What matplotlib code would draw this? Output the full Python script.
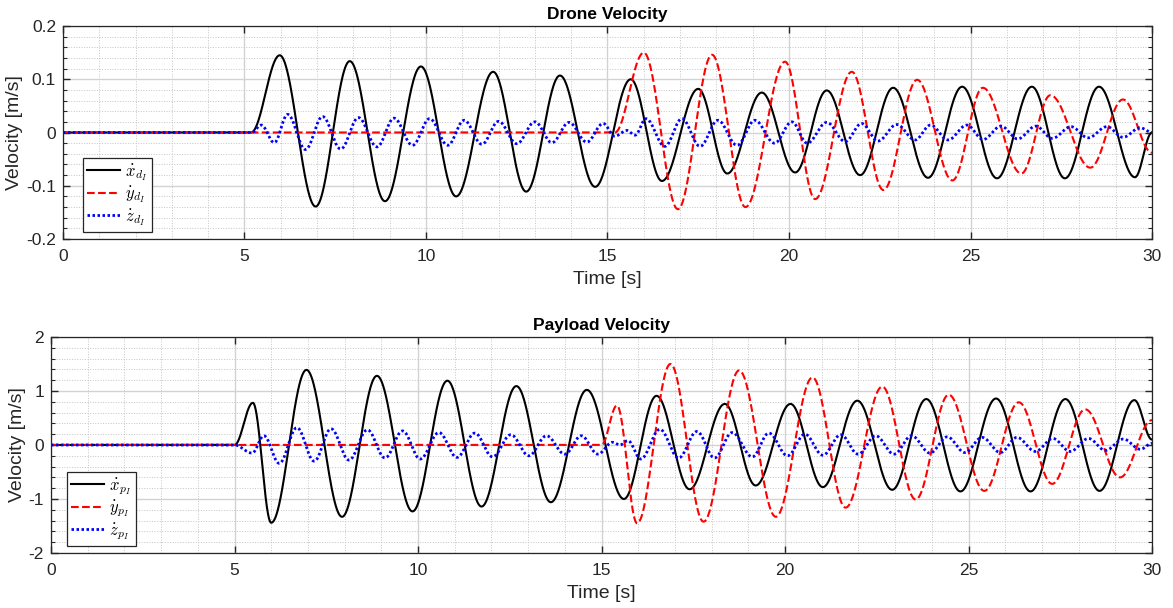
import numpy as np
import matplotlib
matplotlib.use("Agg")
import matplotlib.pyplot as plt
from matplotlib.ticker import MultipleLocator, FormatStrFormatter

plt.rcParams['font.family'] = ['Liberation Sans', 'DejaVu Sans']
plt.rcParams['axes.unicode_minus'] = False
plt.rcParams['mathtext.fontset'] = 'cm'

# === Drone velocity: extrema (time [s], value [m/s]) ===
t_xd = [0, 5.18, 5.97, 6.96, 7.9, 8.87, 9.86, 10.83, 11.85, 12.76, 13.69, 14.66, 15.64, 16.5,
        17.5, 18.3, 19.25, 20.17, 21.04, 21.96, 22.87, 23.83, 24.77, 25.73, 26.69, 27.6, 28.54, 29.53, 30]
v_xd = [0, 0, 0.145, -0.139, 0.134, -0.129, 0.124, -0.12, 0.114, -0.111, 0.107, -0.102, 0.10, -0.091,
        0.082, -0.077, 0.075, -0.075, 0.079, -0.08, 0.084, -0.085, 0.086, -0.086, 0.086, -0.086, 0.086, -0.084, 0.0]

t_yd = [0, 15.2, 16.0, 16.94, 17.88, 18.8, 19.89, 20.72, 21.73, 22.6, 23.53, 24.5, 25.34, 26.4,
        27.2, 28.3, 29.2, 30]
v_yd = [0, 0, 0.15, -0.144, 0.146, -0.14, 0.133, -0.125, 0.114, -0.108, 0.099, -0.09, 0.084, -0.077,
        0.07, -0.066, 0.062, -0.038]

t_zd = [0, 5.2, 5.46, 5.82, 6.19, 6.68, 7.15, 7.65, 8.14, 8.65, 9.12, 9.63, 10.1, 10.6, 11.05, 11.54,
        12.0, 12.5, 13.0, 13.47, 13.94, 14.43, 14.88, 15.2, 15.53, 15.76, 16.06, 16.58, 17.05, 17.55,
        18.04, 18.57, 19.06, 19.6, 20.08, 20.5, 21.04, 21.55, 22.0, 22.45, 22.97, 23.47, 23.9, 24.38,
        24.9, 25.35, 25.84, 26.3, 26.8, 27.25, 27.77, 28.24, 28.76, 29.2, 29.67, 30]
v_zd = [0, 0, 0.014, -0.019, 0.034, -0.032, 0.03, -0.031, 0.028, -0.027, 0.027, -0.024, 0.026, -0.024,
        0.023, -0.022, 0.021, -0.021, 0.02, -0.019, 0.019, -0.018, 0.017, -0.007, 0.004, -0.005, 0.026,
        -0.026, 0.026, -0.026, 0.023, -0.024, 0.023, -0.02, 0.02, -0.02, 0.019, -0.017, 0.017, -0.016,
        0.015, -0.014, 0.014, -0.014, 0.014, -0.013, 0.012, -0.012, 0.012, -0.011, 0.011, -0.01, 0.011,
        -0.009, 0.009, 0.0]

# === Payload velocity ===
t_xp = [0, 5.0, 5.5, 6.0, 6.96, 7.93, 8.88, 9.85, 10.8, 11.73, 12.68, 13.62, 14.6, 15.61, 16.5, 17.4,
        18.36, 19.2, 20.15, 21.03, 21.97, 22.92, 23.85, 24.78, 25.75, 26.69, 27.64, 28.57, 29.52, 30]
v_xp = [0, 0, 0.78, -1.44, 1.39, -1.33, 1.28, -1.23, 1.19, -1.14, 1.09, -1.06, 1.02, -1.0, 0.91, -0.82,
        0.76, -0.75, 0.76, -0.78, 0.82, -0.83, 0.85, -0.86, 0.86, -0.86, 0.85, -0.85, 0.83, 0.1]

t_yp = [0, 15.0, 15.42, 15.97, 16.88, 17.78, 18.75, 19.75, 20.75, 21.65, 22.65, 23.56, 24.46, 25.43,
        26.37, 27.28, 28.18, 29.13, 30]
v_yp = [0, 0, 0.73, -1.45, 1.5, -1.42, 1.38, -1.33, 1.25, -1.16, 1.08, -1.01, 0.93, -0.85,
        0.79, -0.72, 0.66, -0.6, 0.46]

t_zp = [0, 5.0, 5.48, 5.8, 6.22, 6.7, 7.17, 7.63, 8.12, 8.62, 9.1, 9.58, 10.06, 10.57, 11.06, 11.55,
        12.03, 12.53, 13.02, 13.5, 14.0, 14.45, 14.9, 15.3, 15.5, 15.72, 16.07, 16.59, 17.1, 17.6,
        18.08, 18.56, 19.11, 19.56, 20.07, 20.54, 21.03, 21.52, 21.99, 22.47, 22.97, 23.45, 23.95, 24.42,
        24.9, 25.37, 25.87, 26.32, 26.82, 27.3, 27.77, 28.27, 28.73, 29.22, 29.68, 30]
v_zp = [0, 0, -0.15, 0.17, -0.34, 0.32, -0.30, 0.30, -0.28, 0.28, -0.24, 0.26, -0.26, 0.23, -0.23, 0.22,
        -0.22, 0.19, -0.2, 0.17, -0.17, 0.17, -0.17, 0.05, 0.0, 0.08, -0.26, 0.29, -0.24, 0.25,
        -0.24, 0.23, -0.22, 0.22, -0.2, 0.2, -0.19, 0.19, -0.17, 0.17, -0.17, 0.17, -0.15, 0.15,
        -0.14, 0.14, -0.14, 0.14, -0.12, 0.12, -0.12, 0.12, -0.1, 0.11, -0.08, 0.03]

DOTS = (0, (0.9, 0.9))


def smooth(tk, vk, n=6000):
    # half-cosine between successive read extrema
    tk = np.asarray(tk, float)
    vk = np.asarray(vk, float)
    t = np.linspace(tk[0], tk[-1], n)
    i = np.clip(np.searchsorted(tk, t, side="right") - 1, 0, len(tk) - 2)
    f = (t - tk[i]) / (tk[i + 1] - tk[i])
    w = (1 - np.cos(np.pi * f)) / 2
    return t, vk[i] + (vk[i + 1] - vk[i]) * w


def style_axes(ax, ymaj, ymin, title, ylim):
    ax.set_xlim(0, 30)
    ax.set_ylim(*ylim)
    ax.xaxis.set_major_locator(MultipleLocator(5))
    ax.xaxis.set_minor_locator(MultipleLocator(1))
    ax.yaxis.set_major_locator(MultipleLocator(ymaj))
    ax.yaxis.set_minor_locator(MultipleLocator(ymin))
    ax.yaxis.set_major_formatter(FormatStrFormatter('%g'))
    ax.grid(True, which='major', color='#d2d2d2', lw=1.0, ls='-')
    ax.grid(True, which='minor', color='#c4c4c4', lw=0.7, ls=':')
    ax.set_axisbelow(True)
    ax.tick_params(which='both', direction='in', top=True, right=True,
                   colors='#262626', labelsize=12.5, labelcolor='#262626')
    ax.tick_params(which='major', length=5, width=1.0)
    ax.tick_params(axis='x', which='major', pad=7)
    ax.tick_params(axis='y', which='major', pad=5)
    ax.tick_params(axis='y', which='minor', length=3, width=0.8)
    ax.tick_params(axis='x', which='minor', length=0)
    for s in ax.spines.values():
        s.set_color('#262626')
        s.set_linewidth(0.9)
    ax.set_title(title, fontsize=12.5, fontweight='bold', pad=5)
    ax.set_xlabel('Time [s]', fontsize=14, color='#262626', labelpad=5)
    ax.set_ylabel('Velocity [m/s]', fontsize=14, color='#262626', labelpad=2)


fig = plt.figure(figsize=(11.73, 6.08), dpi=100)
ax1 = fig.add_axes([0.0537, 0.6069, 0.9284, 0.3503])
ax2 = fig.add_axes([0.0435, 0.0905, 0.9386, 0.3553])

ax1.plot(*smooth(t_xd, v_xd), color='black', lw=1.5, label=r'$\dot{x}_{d_I}$')
ax1.plot(*smooth(t_yd, v_yd), color='red', lw=1.5, ls='--', label=r'$\dot{y}_{d_I}$')
ax1.plot(*smooth(t_zd, v_zd), color='blue', lw=2.0, ls=DOTS, label=r'$\dot{z}_{d_I}$')
style_axes(ax1, 0.1, 0.02, 'Drone Velocity', (-0.2, 0.2))

ax2.plot(*smooth(t_xp, v_xp), color='black', lw=1.5, label=r'$\dot{x}_{p_I}$')
ax2.plot(*smooth(t_yp, v_yp), color='red', lw=1.5, ls='--', label=r'$\dot{y}_{p_I}$')
ax2.plot(*smooth(t_zp, v_zp), color='blue', lw=2.0, ls=DOTS, label=r'$\dot{z}_{p_I}$')
style_axes(ax2, 1, 0.2, 'Payload Velocity', (-2, 2))

for ax, anchor in [(ax1, (0.018, 0.033)), (ax2, (0.0145, 0.032))]:
    leg = ax.legend(loc='lower left', bbox_to_anchor=anchor, fontsize=12, fancybox=False,
                    edgecolor='#262626', framealpha=1, handlelength=2.0, borderpad=0.25,
                    labelspacing=0.1, handletextpad=0.3, borderaxespad=0)
    leg.get_frame().set_linewidth(0.9)

fig.savefig('out.png', dpi=100)
